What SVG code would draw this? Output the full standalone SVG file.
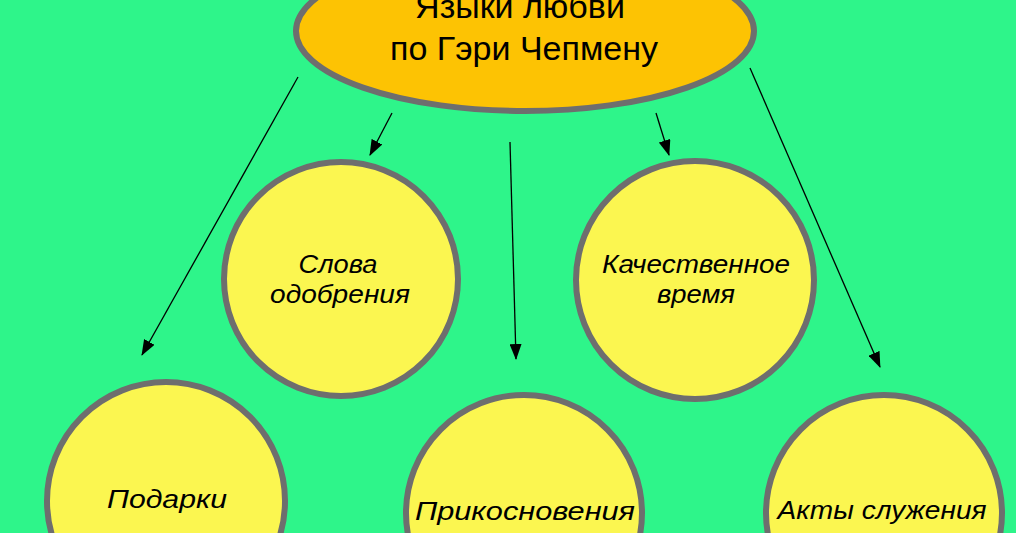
<svg xmlns="http://www.w3.org/2000/svg" width="1016" height="533" viewBox="0 0 1016 533">
<style>
.bg{fill:#2ef58a}
.node{fill:#fbf650;stroke:#6e6e6e;stroke-width:6}
.top{fill:#fdc303;stroke:#6e6e6e;stroke-width:6}
.t{font-family:"Liberation Sans",Arial,sans-serif;fill:#000;text-anchor:middle}
.i{font-style:italic}
.c{stroke:#000;stroke-width:1.3;fill:none;marker-end:url(#ah)}
</style>
<defs>
<marker id="ah" viewBox="0 0 16 12" refX="15" refY="6" markerWidth="16" markerHeight="12" markerUnits="userSpaceOnUse" orient="auto">
<path d="M0,0 L16,6 L0,12 Z" fill="#000"/>
</marker>
</defs>
<rect class="bg" x="0" y="0" width="1016" height="533"/>
<g id="connectors">
<line class="c" x1="298" y1="77" x2="142" y2="355"/>
<line class="c" x1="392" y1="113" x2="370" y2="155"/>
<line class="c" x1="510" y1="142" x2="516" y2="359"/>
<line class="c" x1="656" y1="113" x2="669" y2="155"/>
<line class="c" x1="750" y1="68" x2="880" y2="367"/>
</g>
<g id="root">
<ellipse class="top" cx="525" cy="31" rx="229" ry="80"/>
<text class="t" x="520" y="18" font-size="34">Языки любви</text>
<text class="t" x="524" y="60" font-size="34">по Гэри Чепмену</text>
</g>
<g id="words">
<circle class="node" cx="341" cy="279" r="117"/>
<text class="t i" x="338" y="273" font-size="25" textLength="79" lengthAdjust="spacingAndGlyphs">Слова</text>
<text class="t i" x="340" y="303" font-size="25" textLength="140" lengthAdjust="spacingAndGlyphs">одобрения</text>
</g>
<g id="time">
<circle class="node" cx="695" cy="280" r="119"/>
<text class="t i" x="696" y="273" font-size="25" textLength="188" lengthAdjust="spacingAndGlyphs">Качественное</text>
<text class="t i" x="696" y="303" font-size="25" textLength="78" lengthAdjust="spacingAndGlyphs">время</text>
</g>
<g id="gifts">
<circle class="node" cx="166" cy="501" r="119"/>
<text class="t i" x="167" y="508" font-size="26" textLength="120" lengthAdjust="spacingAndGlyphs">Подарки</text>
</g>
<g id="touch">
<circle class="node" cx="524" cy="513" r="118"/>
<text class="t i" x="525" y="520" font-size="26" textLength="220" lengthAdjust="spacingAndGlyphs">Прикосновения</text>
</g>
<g id="service">
<circle class="node" cx="884" cy="513" r="118"/>
<text class="t i" x="882" y="519" font-size="26" textLength="209" lengthAdjust="spacingAndGlyphs">Акты служения</text>
</g>
</svg>
